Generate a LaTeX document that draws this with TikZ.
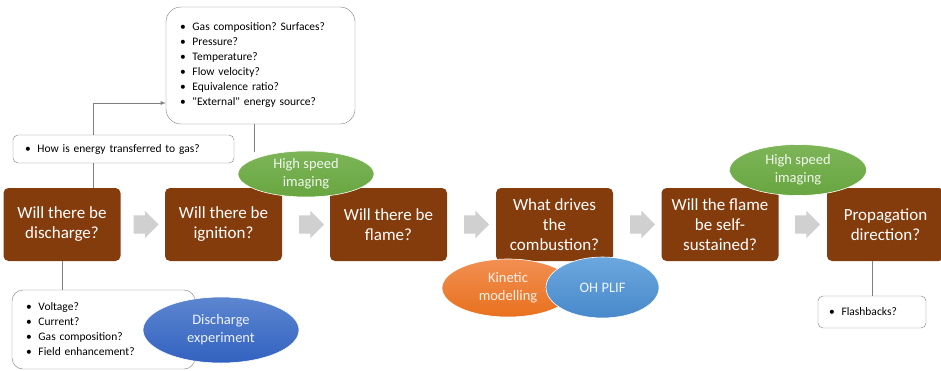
\documentclass[tikz,border=0pt]{standalone}
\usepackage{fontspec}
\setmainfont{Carlito}
\usetikzlibrary{shapes.geometric,shapes.arrows}
\definecolor{rust}{HTML}{843C0C}
\definecolor{arrowgray}{HTML}{D0D0D0}
\definecolor{linegray}{HTML}{7F7F7F}
\definecolor{greentop}{HTML}{7DB558}
\definecolor{greenbot}{HTML}{68A640}
\definecolor{bluetop}{HTML}{5D86D0}
\definecolor{bluebot}{HTML}{3262C0}
\definecolor{orangetop}{HTML}{F28F52}
\definecolor{orangebot}{HTML}{E8711E}
\definecolor{skytop}{HTML}{6CA7DE}
\definecolor{skybot}{HTML}{4889CB}
\tikzset{
  >=latex,
}
\tikzstyle{question}=[fill=rust,rounded corners=5pt,minimum width=117pt,
  minimum height=73pt,text=white,align=center,inner sep=2pt,
  font=\fontsize{17}{20}\selectfont]
\tikzstyle{flowarrow}=[single arrow,fill=arrowgray,inner xsep=0pt,
  inner ysep=9pt,minimum height=25pt,single arrow head extend=4.5pt,
  single arrow tip angle=90]
\tikzstyle{note}=[draw=linegray,fill=white,align=left,inner ysep=0pt,
  font=\fontsize{11.5}{15}\selectfont]
\tikzstyle{method}=[ellipse,inner sep=0pt,draw=white,line width=0.6pt,
  text=white,text opacity=0.9,align=center,
  font=\fontsize{14.5}{18}\selectfont]
\tikzstyle{link}=[draw=linegray,line width=0.8pt]
\newcommand{\itm}{\makebox[12.5pt][l]{\textbullet}}
\frenchspacing

\begin{document}
\begin{tikzpicture}[x=1pt,y=-1pt]
    \useasboundingbox (0,0) rectangle (941,370);

    % main questions
    \node[question] (b1) at (62,224.5)    {Will there be\\discharge?};
    \node[question] (b2) at (223.5,224.5) {Will there be\\ignition?};
    \node[question] (b3) at (388.5,224.5) {Will there be\\flame?};
    \node[question] (b4) at (554.5,224.5) {What drives\\the\\combustion?};
    \node[question] (b5) at (720,224.5)   {Will the flame\\be self-\\sustained?};
    \node[question] (b6) at (885.5,224.5) {Propagation\\direction?};

    \node[flowarrow] (a1) at (141.5,224.5) {};
    \node[flowarrow] (a2) at (307,224.5) {};
    \node[flowarrow] (a3) at (472,224.5) {};
    \node[flowarrow] (a4) at (638,224.5) {};
    \node[flowarrow] (a5) at (803,224.5) {};

    % notes
    \node[note,rounded corners=15pt,minimum height=117pt,text width=161pt,
      inner xsep=14pt] (conds) at (260.5,65.5)
      {\itm Gas composition? Surfaces?\\\itm Pressure?\\\itm Temperature?\\
       \itm Flow velocity?\\\itm Equivalence ratio?\\
       \itm \textquotedbl External\textquotedbl{} energy source?};
    \node[note,rounded corners=5pt,minimum height=28pt,text width=197pt,
      inner xsep=12pt] (energy) at (123.5,149)
      {\itm How is energy transferred to gas?};
    \node[note,rounded corners=11pt,minimum height=79pt,text width=155pt,
      inner xsep=14pt] (disch) at (103.5,329.5)
      {\itm Voltage?\\\itm Current?\\\itm Gas composition?\\
       \itm Field enhancement?};
    \node[note,rounded corners=5pt,minimum height=32pt,text width=86pt,
      inner xsep=11pt] (flash) at (872,312) {\itm Flashbacks?};

    \draw[link] ([xshift=31pt]b1.north) -- ([xshift=31pt]b1.north |- energy.south);
    \draw[link,->] ([xshift=31pt]b1.north |- energy.north)
      |- ([yshift=-37.5pt]conds.west);
    \draw[link] (conds.south -| 254,0) -- (254,152);
    \draw[link] (b1.south) -- (b1.south |- disch.north);
    \draw[link] (b6.south -| flash.north) -- (flash.north);

    % methods
    \node[method,minimum width=136pt,minimum height=46pt,
      top color=greentop,bottom color=greenbot]
      (hs1) at (306,174) {High speed\\imaging};
    \node[method,minimum width=137pt,minimum height=51pt,
      top color=greentop,bottom color=greenbot]
      (hs2) at (798,170) {High speed\\imaging};
    \node[method,minimum width=156pt,minimum height=66pt,
      top color=bluetop,bottom color=bluebot]
      (dexp) at (221,330) {Discharge\\experiment};
    \node[method,minimum width=132pt,minimum height=58pt,
      top color=orangetop,bottom color=orangebot]
      (kin) at (508,288) {Kinetic\\modelling};
    \node[method,minimum width=113pt,minimum height=61pt,
      top color=skytop,bottom color=skybot]
      (plif) at (602.5,287.5) {OH PLIF};
\end{tikzpicture}
\end{document}
